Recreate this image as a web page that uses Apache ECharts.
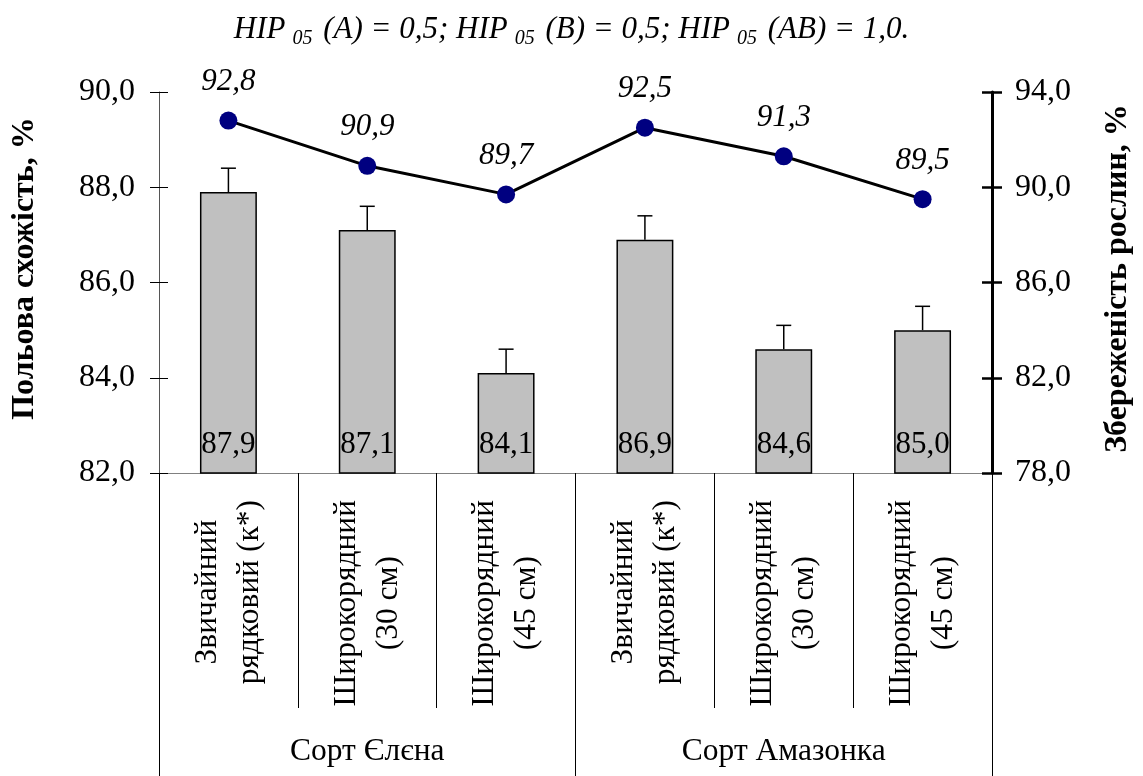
<!DOCTYPE html>
<html>
<head>
<meta charset="utf-8">
<script src="https://cdn.jsdelivr.net/npm/echarts@6/dist/echarts.min.js"></script>
<style>html,body{margin:0;padding:0;background:#fff}#c{width:1143px;height:776px}</style>
</head>
<body>
<div id="c"></div>
<script>
const categories = ['Звичайний\nрядковий (к*)', 'Широкорядний\n(30 см)', 'Широкорядний\n(45 см)', 'Звичайний\nрядковий (к*)', 'Широкорядний\n(30 см)', 'Широкорядний\n(45 см)'];
const groups = ['Сорт Єлєна', 'Сорт Амазонка'];
const emergence = [87.9, 87.1, 84.1, 86.9, 84.6, 85.0];
const emergenceErr = [0.5, 0.5, 0.5, 0.5, 0.5, 0.5];
const survival = [92.8, 90.9, 89.7, 92.5, 91.3, 89.5];
const leftTicks = {min: 82, max: 90, interval: 2};
const rightTicks = {min: 78, max: 94, interval: 4};
const titleText = '{i|HIP}{s|05}{i| (A) = 0,5; HIP}{s|05}{i| (B) = 0,5; HIP}{s|05}{i| (AB) = 1,0.}';
const leftName = 'Польова схожість, %';
const rightName = 'Збереженість рослин, %';

const FF = '"Liberation Serif", "Times New Roman", serif';
const fmt = v => Number(v).toFixed(1).replace('.', ',');

const chart = echarts.init(document.getElementById('c'), null, {renderer: 'canvas'});
chart.setOption({
  animation: false,
  backgroundColor: '#fff',
  title: {
    text: titleText,
    left: 'center',
    top: 9,
    textStyle: {
      fontWeight: 'normal',
      rich: {
        i: {fontFamily: FF, fontStyle: 'italic', fontWeight: 'normal', fontSize: 31, color: '#000', lineHeight: 32, verticalAlign: 'top'},
        s: {fontFamily: FF, fontStyle: 'italic', fontWeight: 'normal', fontSize: 20, color: '#000', lineHeight: 20, padding: [15, 3, 0, 7], verticalAlign: 'top'}
      }
    }
  },
  grid: {left: 159, right: 151, top: 92, bottom: 303, containLabel: false},
  xAxis: [{
    type: 'category',
    data: categories,
    position: 'bottom',
    axisLine: {show: true, lineStyle: {color: '#808080', width: 1}},
    axisTick: {show: true, length: 235, interval: 0, lineStyle: {color: '#000', width: 1}},
    axisLabel: {
      interval: 0, rotate: 90, margin: 27,
      formatter: v => v.split('\n').map(s => '{a|' + s + '}').join('\n'),
      rich: {a: {align: 'center', fontFamily: FF, fontSize: 31.5, lineHeight: 42, color: '#000'}}
    }
  }, {
    type: 'category',
    data: groups,
    position: 'bottom',
    axisLine: {show: false},
    axisTick: {show: true, length: 303, interval: 0, lineStyle: {color: '#000', width: 1}},
    axisLabel: {interval: 0, margin: 263, fontFamily: FF, fontSize: 31.5, color: '#000'}
  }],
  yAxis: [{
    type: 'value', position: 'left', ...leftTicks,
    name: leftName, nameLocation: 'middle', nameGap: 118, nameRotate: 90,
    nameTextStyle: {fontFamily: FF, fontWeight: 'bold', fontSize: 32, color: '#000', padding: [0, 0, 0, 28]},
    axisLine: {show: true, lineStyle: {color: '#555', width: 1}},
    axisTick: {show: true, inside: false, length: 9, lineStyle: {color: '#000', width: 1}},
    axisLabel: {formatter: fmt, margin: 24, fontFamily: FF, fontSize: 32, color: '#000'},
    splitLine: {show: false}
  }, {
    type: 'value', position: 'right', ...rightTicks,
    name: rightName, nameLocation: 'middle', nameGap: 110, nameRotate: 90,
    nameTextStyle: {fontFamily: FF, fontWeight: 'bold', fontSize: 32, color: '#000', padding: [0, 0, 0, 8]},
    axisLine: {show: true, lineStyle: {color: '#000', width: 3}},
    axisTick: {show: true, inside: false, length: 10, lineStyle: {color: '#000', width: 2.5}},
    axisLabel: {formatter: fmt, margin: 23, fontFamily: FF, fontSize: 32, color: '#000'},
    splitLine: {show: false}
  }, {
    type: 'value', position: 'left', ...leftTicks,
    axisLine: {show: false},
    axisTick: {show: true, inside: true, length: 9, lineStyle: {color: '#000', width: 1}},
    axisLabel: {show: false}, splitLine: {show: false}
  }, {
    type: 'value', position: 'right', ...rightTicks,
    axisLine: {show: false},
    axisTick: {show: true, inside: true, length: 10, lineStyle: {color: '#000', width: 2.5}},
    axisLabel: {show: false}, splitLine: {show: false}
  }],
  series: [{
    type: 'bar',
    xAxisIndex: 0, yAxisIndex: 0,
    data: emergence,
    barWidth: '41%',
    itemStyle: {color: '#C0C0C0', borderColor: '#000', borderWidth: 1.5},
    label: {show: true, position: 'insideBottom', distance: 13, formatter: p => fmt(p.value), fontFamily: FF, fontSize: 31, color: '#000'},
    z: 2
  }, {
    type: 'custom',
    xAxisIndex: 0, yAxisIndex: 0,
    data: emergence.map((v, i) => [i, v, emergenceErr[i]]),
    encode: {x: 0, y: 1},
    renderItem: (params, api) => {
      const base = api.coord([api.value(0), api.value(1)]);
      const top = api.coord([api.value(0), api.value(1) + api.value(2)]);
      const style = {stroke: '#000', lineWidth: 1.5};
      return {type: 'group', children: [
        {type: 'line', shape: {x1: base[0], y1: base[1], x2: top[0], y2: top[1]}, style},
        {type: 'line', shape: {x1: top[0] - 7.5, y1: top[1], x2: top[0] + 7.5, y2: top[1]}, style}
      ]};
    },
    z: 3
  }, {
    type: 'line',
    xAxisIndex: 0, yAxisIndex: 1,
    data: survival,
    symbol: 'circle', symbolSize: 18,
    lineStyle: {color: '#000', width: 3},
    itemStyle: {color: '#000080'},
    label: {show: true, position: 'top', distance: 14, formatter: p => fmt(p.value), fontFamily: FF, fontStyle: 'italic', fontSize: 31, color: '#000'},
    z: 5
  }]
});
</script>
</body>
</html>
